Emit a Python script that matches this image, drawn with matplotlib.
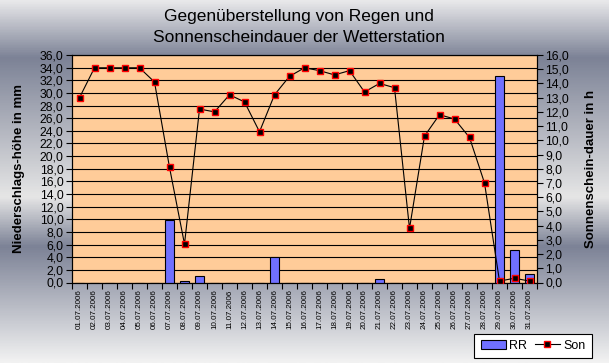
import numpy as np
import matplotlib
matplotlib.use("Agg")
import matplotlib.pyplot as plt
from matplotlib.patches import Patch
from matplotlib.lines import Line2D
from matplotlib.colors import LinearSegmentedColormap

plt.rcParams['font.family'] = ['Liberation Sans', 'DejaVu Sans']

dates = ["%02d.07.2006" % d for d in range(1, 32)]
rain_mm = [0, 0, 0, 0, 0, 0, 9.9, 0.2, 1.0, 0, 0, 0, 0, 4.0, 0, 0,
           0, 0, 0, 0, 0.5, 0, 0, 0, 0, 0, 0, 0, 32.7, 5.1, 1.4]
sun_h = [13.0, 15.1, 15.1, 15.1, 15.1, 14.1, 8.1, 2.7, 12.2, 12.0, 13.2,
         12.7, 10.6, 13.2, 14.5, 15.1, 14.9, 14.6, 14.9, 13.4, 14.0, 13.7,
         3.8, 10.3, 11.8, 11.5, 10.2, 7.0, 0.1, 0.3, 0.1]
left_ticks = np.arange(0, 36.1, 2)
right_ticks = np.arange(0, 16.1, 1)

W, H = 609, 363
fig = plt.figure(figsize=(W / 100, H / 100), dpi=100)

# metallic gradient background
bg = fig.add_axes([0, 0, 1, 1], zorder=-10)
stops = [(0.0, '#e8e8ea'), (57 / H, '#7c8296'), (197 / H, '#e6e6e6'),
         (247 / H, '#7c8296'), (1.0, '#f2f2f2')]
cmap = LinearSegmentedColormap.from_list('metal', stops)
grad = np.linspace(0, 1, 400).reshape(-1, 1)
bg.imshow(grad, aspect='auto', cmap=cmap, extent=[0, 1, 1, 0])
bg.set_xlim(0, 1)
bg.set_ylim(1, 0)
bg.axis('off')

bar_color = '#7070ff'
x0, x1, ytop, ybot = 72, 537, 55, 282.5
ax = fig.add_axes([x0 / W, (H - ybot) / H, (x1 - x0) / W, (ybot - ytop) / H])
ax.set_facecolor('#ffcc99')
x = np.arange(len(dates))
ax.bar(x, rain_mm, width=0.62, color=bar_color, edgecolor='black', linewidth=0.8, zorder=3)
ax.set_xlim(-0.5, len(dates) - 0.5)
ax.set_ylim(0, 36)
ax.set_yticks(left_ticks, [("%.1f" % v).replace('.', ',') for v in left_ticks])
ax.yaxis.grid(True, color='black', linewidth=0.8)
ax.set_axisbelow(True)
ax.set_xticks(np.arange(-0.5, len(dates), 1), [''] * (len(dates) + 1))
ax.set_xticks(x, dates, minor=True, rotation=90, fontsize=5.8)
ax.tick_params(axis='x', which='major', length=4, width=0.8, direction='out')
ax.tick_params(axis='x', which='minor', length=0, pad=5)
ax.tick_params(axis='y', length=4, width=0.8, labelsize=8.8, pad=2)
for s in ax.spines.values():
    s.set_linewidth(0.8)
ax.set_ylabel('Niederschlags-höhe in mm', fontsize=9.5, fontweight='bold')
ax.yaxis.set_label_coords((25 - x0) / (x1 - x0), 0.5)

ax2 = ax.twinx()
ax2.plot(x, sun_h, color='black', linewidth=0.8, marker='s', markersize=4.5,
         markerfacecolor='black', markeredgecolor='red', markeredgewidth=1.0, zorder=5)
ax2.set_ylim(0, 16)
ax2.set_yticks(right_ticks, [("%.1f" % v).replace('.', ',') for v in right_ticks])
ax2.tick_params(axis='y', length=4, width=0.8, labelsize=8.8, pad=2)
ax2.set_ylabel('Sonnenschein-dauer in h', fontsize=9.5, fontweight='bold', rotation=90)
ax2.yaxis.set_label_coords((585 - x0) / (x1 - x0), 0.5)

fig.text(299 / W, 1 - 16 / H, 'Gegenüberstellung von Regen und', ha='center', va='center', fontsize=12.5)
fig.text(299 / W, 1 - 37 / H, 'Sonnenscheindauer der Wetterstation', ha='center', va='center', fontsize=12.5)

handles = [Patch(facecolor=bar_color, edgecolor='black', linewidth=0.8),
           Line2D([0], [0], color='black', linewidth=0.8, marker='s', markersize=4.5,
                  markerfacecolor='black', markeredgecolor='red', markeredgewidth=1.0)]
leg = fig.legend(handles, ['RR', 'Son'], ncol=2, loc='lower right',
                 bbox_to_anchor=(592 / W, 5 / H), fontsize=9, frameon=True,
                 fancybox=False, edgecolor='black', facecolor='white', framealpha=1,
                 borderpad=0.5, handlelength=2.0, handletextpad=0.3, columnspacing=0.6,
                 borderaxespad=0)
leg.get_frame().set_linewidth(0.8)

fig.savefig('out.png', dpi=100)
